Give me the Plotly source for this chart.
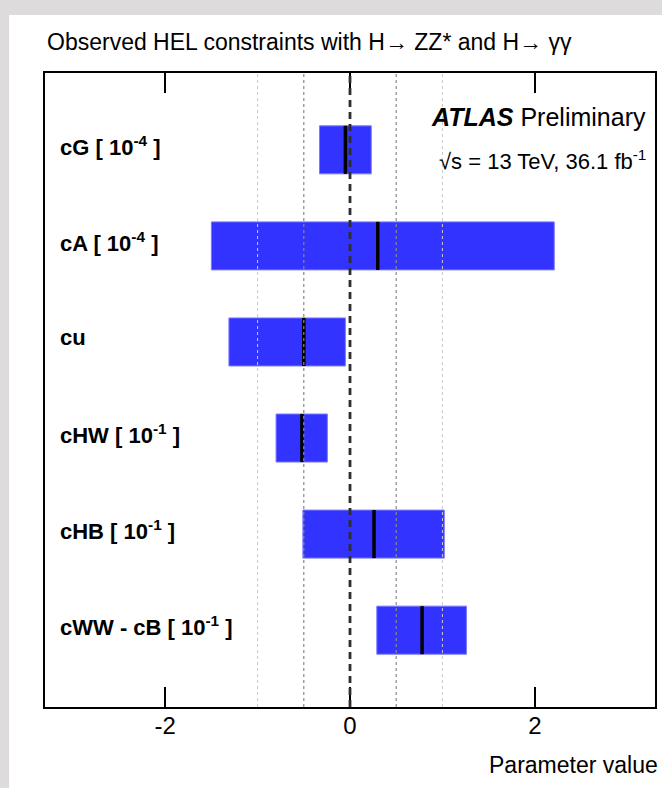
import plotly.graph_objects as go

# ---- data ----
parameters = ["cG [ 10<sup>-4</sup> ]", "cA [ 10<sup>-4</sup> ]", "cu",
              "cHW [ 10<sup>-1</sup> ]", "cHB [ 10<sup>-1</sup> ]",
              "cWW - cB [ 10<sup>-1</sup> ]"]
lower = [-0.33, -1.50, -1.31, -0.80, -0.51, 0.29]
upper = [0.23, 2.21, -0.05, -0.245, 1.02, 1.26]
central = [-0.05, 0.30, -0.50, -0.52, 0.26, 0.78]
x_ticks = [-2, 0, 2]
ref_dark = [-0.5, 0.5]
ref_light = [-1.0, 1.0]

idx = list(range(len(parameters)))
FONT = "Liberation Sans, Arial, Helvetica, sans-serif"

fig = go.Figure()

fig.add_trace(go.Bar(
    orientation="h",
    y=idx,
    x=[u - l for l, u in zip(lower, upper)],
    base=lower,
    width=0.5,
    marker=dict(color="#3333ff", line=dict(color="#7a7aff", width=1)),
    showlegend=False,
    hoverinfo="skip",
))

cx, cy = [], []
for i, c in zip(idx, central):
    cx += [c, c, None]
    cy += [i - 0.25, i + 0.25, None]
fig.add_trace(go.Scatter(x=cx, y=cy, mode="lines",
                         line=dict(color="black", width=3.5),
                         showlegend=False, hoverinfo="skip"))

shapes = []
for v in ref_light:
    shapes.append(dict(type="line", xref="x", yref="paper", x0=v, x1=v, y0=0, y1=1,
                       line=dict(color="#c8c8c8", width=1, dash="dot"), layer="above"))
for v in ref_dark:
    shapes.append(dict(type="line", xref="x", yref="paper", x0=v, x1=v, y0=0, y1=1,
                       line=dict(color="#8a8a8a", width=1.2, dash="dot"), layer="above"))
shapes.append(dict(type="line", xref="x", yref="paper", x0=0, x1=0, y0=0, y1=1,
                   line=dict(color="#2e2e2e", width=2.8, dash="7px,5px"), layer="above"))
# white panel on grey page
shapes.append(dict(type="rect", xref="paper", yref="paper",
                   x0=-0.0588, x1=1.02, y0=-0.14, y1=1.0915,
                   fillcolor="white", line=dict(width=0), layer="below"))

annotations = []
for i, name in zip(idx, parameters):
    annotations.append(dict(x=0.021, xref="paper", y=i, yref="y", text="<b>" + name + "</b>",
                            showarrow=False, xanchor="left", yanchor="middle", yshift=4,
                            font=dict(family=FONT, size=22, color="black")))
annotations += [
    dict(x=0, xref="paper", y=1.049, yref="paper",
         text="Observed HEL constraints with H\u2192 ZZ* and H\u2192 \u03b3\u03b3",
         showarrow=False, xanchor="left", yanchor="middle",
         font=dict(family=FONT, size=23, color="black")),
    dict(x=0.9886, xref="paper", y=0.9306, yref="paper",
         text="<b><i>ATLAS</i></b> Preliminary",
         showarrow=False, xanchor="right", yanchor="middle",
         font=dict(family=FONT, size=25, color="black")),
    dict(x=0.988, xref="paper", y=0.8628, yref="paper",
         text="\u221as = 13 TeV, 36.1 fb<sup>-1</sup>",
         showarrow=False, xanchor="right", yanchor="middle",
         font=dict(family=FONT, size=22, color="black")),
    dict(x=1.008, xref="paper", y=-0.0915, yref="paper",
         text="Parameter value",
         showarrow=False, xanchor="right", yanchor="middle",
         font=dict(family=FONT, size=23, color="black")),
]

fig.update_layout(
    width=662, height=788,
    margin=dict(l=45, r=5, t=73, b=81),
    paper_bgcolor="#dddbdb",
    plot_bgcolor="white",
    shapes=shapes,
    annotations=annotations,
    showlegend=False,
    xaxis=dict(range=[-3.3, 3.3], tickvals=x_ticks, ticktext=[str(t) for t in x_ticks],
               ticks="inside", ticklen=20, tickwidth=2, tickcolor="black",
               showline=True, linecolor="black", linewidth=2, mirror="ticks",
               showgrid=False, zeroline=False, ticklabelstandoff=-4,
               tickfont=dict(family=FONT, size=24, color="black")),
    yaxis=dict(range=[5.8, -0.8], showticklabels=False, ticks="",
               showline=True, linecolor="black", linewidth=2, mirror=True,
               showgrid=False, zeroline=False),
)

fig.write_html("out.html", config={"displayModeBar": False},
               post_script="document.body.style.margin='0px';document.body.style.padding='0px';"
                           "document.documentElement.style.overflow='hidden';")
